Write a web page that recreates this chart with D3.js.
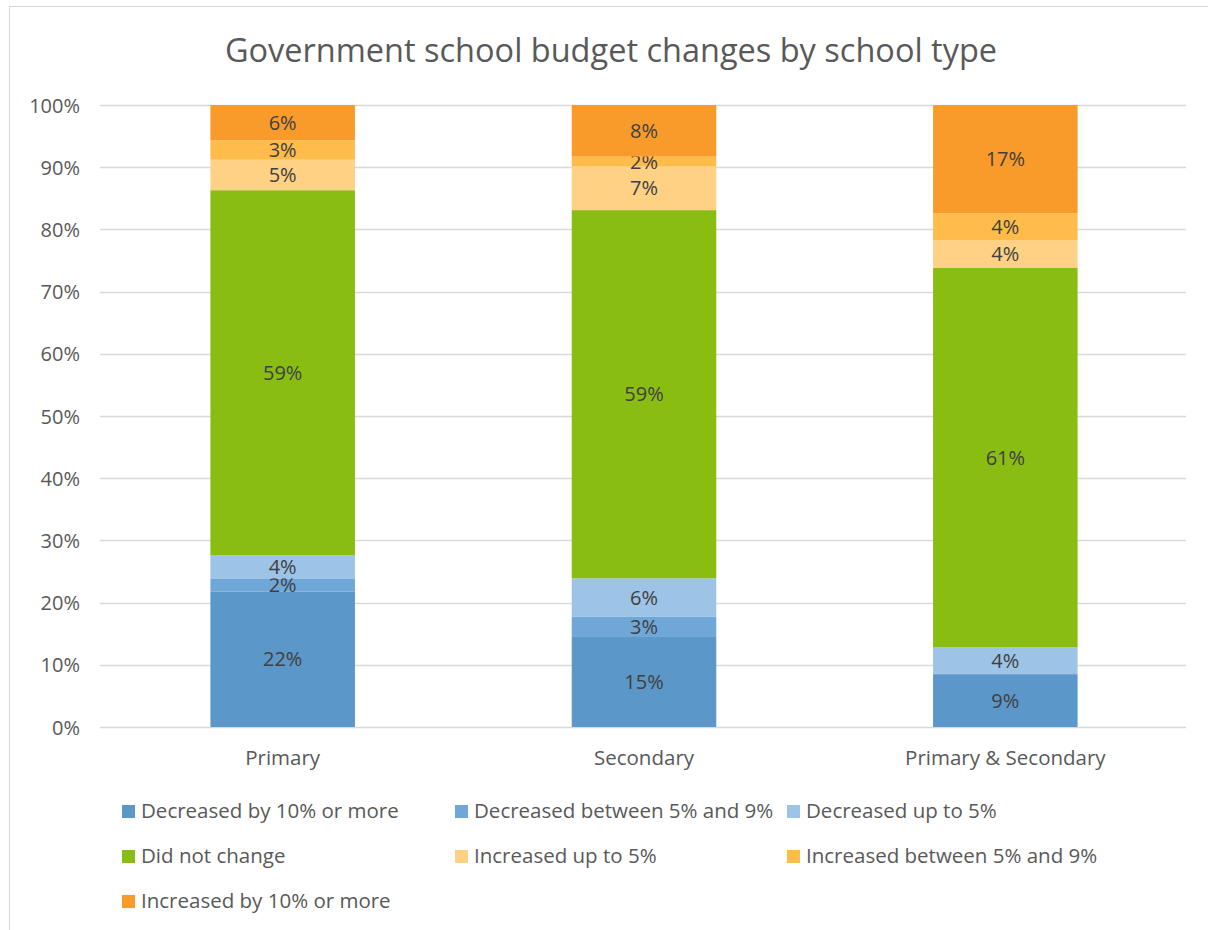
<!DOCTYPE html>
<html>
<head>
<meta charset="utf-8">
<script src="https://cdn.jsdelivr.net/npm/d3@7"></script>
<style>
  html, body { margin: 0; padding: 0; background: #fff; }
  svg { display: block; }
  text { font-family: "Open Sans", "Lato", sans-serif; }
</style>
</head>
<body>
<svg id="chart" width="1208" height="930"></svg>
<script>
// School types along the x axis
const categories = ["Primary", "Secondary", "Primary & Secondary"];

// Budget-change bands, bottom to top of each stack
const seriesNames = [
  "Decreased by 10% or more",
  "Decreased between 5% and 9%",
  "Decreased up to 5%",
  "Did not change",
  "Increased up to 5%",
  "Increased between 5% and 9%",
  "Increased by 10% or more"
];

// Share of schools (%) per band, one value per school type
const decreased10 = [21.8, 14.6, 8.5];
const decreased5to9 = [2.1, 3.1, 0];
const decreasedUpTo5 = [3.7, 6.2, 4.3];
const didNotChange = [58.7, 59.2, 61.0];
const increasedUpTo5 = [4.9, 7.0, 4.4];
const increased5to9 = [3.1, 1.6, 4.4];
const increased10 = [5.7, 8.3, 17.4];

const seriesValues = [decreased10, decreased5to9, decreasedUpTo5, didNotChange,
                      increasedUpTo5, increased5to9, increased10];

const colors = ["#5B97C9", "#6FA7D8", "#9DC3E6", "#8ABD12", "#FFD184", "#FFBC4B", "#F99B2A"];

const yTicks = [0, 10, 20, 30, 40, 50, 60, 70, 80, 90, 100];

const svg = d3.select("#chart");

// Chart frame
svg.append("rect")
  .attr("x", 9.5).attr("y", 6.5)
  .attr("width", 1300).attr("height", 1000)
  .attr("fill", "#fff").attr("stroke", "#D9D9D9").attr("stroke-width", 1);

const plot = { left: 102, right: 1186, top: 105, bottom: 727 };

// Title
svg.append("text")
  .attr("x", 611).attr("y", 62)
  .attr("text-anchor", "middle")
  .attr("font-size", 32.5)
  .attr("fill", "#595959")
  .text("Government school budget changes by school type");

const x = d3.scaleBand()
  .domain(categories)
  .range([plot.left, plot.right])
  .paddingInner(0.6)
  .paddingOuter(0.3);

const y = d3.scaleLinear().domain([0, 100]).range([plot.bottom, plot.top]);

// Gridlines
svg.append("g")
  .selectAll("line")
  .data(yTicks)
  .join("line")
  .attr("x1", plot.left - 2).attr("x2", plot.right)
  .attr("y1", d => Math.round(y(d)) + 0.5).attr("y2", d => Math.round(y(d)) + 0.5)
  .attr("stroke", "#D9D9D9").attr("stroke-width", 1.3);

const fontStack = "'Open Sans', Lato, sans-serif";

// Y axis labels
const yAxis = d3.axisLeft(y).tickValues(yTicks).tickFormat(d => d + "%").tickSize(0).tickPadding(0);
const gy = svg.append("g").attr("transform", `translate(80,0)`).call(yAxis);
gy.select(".domain").remove();
gy.selectAll("text")
  .attr("font-size", 20).attr("fill", "#595959")
  .attr("font-family", fontStack)
  .attr("dy", "0.35em");

// X axis labels
const xAxis = d3.axisBottom(x).tickSize(0).tickPadding(0);
const gx = svg.append("g").attr("transform", `translate(0,${plot.bottom + 31})`).call(xAxis);
gx.select(".domain").remove();
gx.selectAll("text")
  .attr("font-size", 20.5).attr("fill", "#595959")
  .attr("font-family", fontStack)
  .attr("dy", "0.35em");

// Stack the bands
const table = categories.map((c, i) => {
  const row = { category: c };
  seriesNames.forEach((s, j) => { row[s] = seriesValues[j][i]; });
  return row;
});
const stacked = d3.stack().keys(seriesNames)(table);

const layers = svg.append("g")
  .selectAll("g")
  .data(stacked)
  .join("g")
  .attr("fill", (d, i) => colors[i]);

layers.selectAll("rect")
  .data(d => d)
  .join("rect")
  .attr("x", d => x(d.data.category))
  .attr("width", x.bandwidth())
  .attr("y", d => y(d[1]))
  .attr("height", d => y(d[0]) - y(d[1]));

// Value labels centred in each band
layers.selectAll("text")
  .data(d => d.filter(p => p[1] - p[0] > 0))
  .join("text")
  .attr("x", d => x(d.data.category) + x.bandwidth() / 2)
  .attr("y", d => y((d[0] + d[1]) / 2))
  .attr("dy", "0.35em")
  .attr("text-anchor", "middle")
  .attr("font-size", 20)
  .attr("fill", "#404040")
  .text(d => Math.round(d[1] - d[0]) + "%");

// Legend: three columns
const legendCols = [122, 455, 787];
const legendRows = [811, 856, 901];
const legend = svg.append("g")
  .selectAll("g")
  .data(seriesNames)
  .join("g")
  .attr("transform", (d, i) => `translate(${legendCols[i % 3]},${legendRows[Math.floor(i / 3)]})`);

legend.append("rect")
  .attr("x", 0).attr("y", -6)
  .attr("width", 13).attr("height", 13)
  .attr("fill", (d, i) => colors[i]);

legend.append("text")
  .attr("x", 19).attr("y", 0)
  .attr("dy", "0.35em")
  .attr("font-size", 20.5)
  .attr("fill", "#595959")
  .text(d => d);
</script>
</body>
</html>
